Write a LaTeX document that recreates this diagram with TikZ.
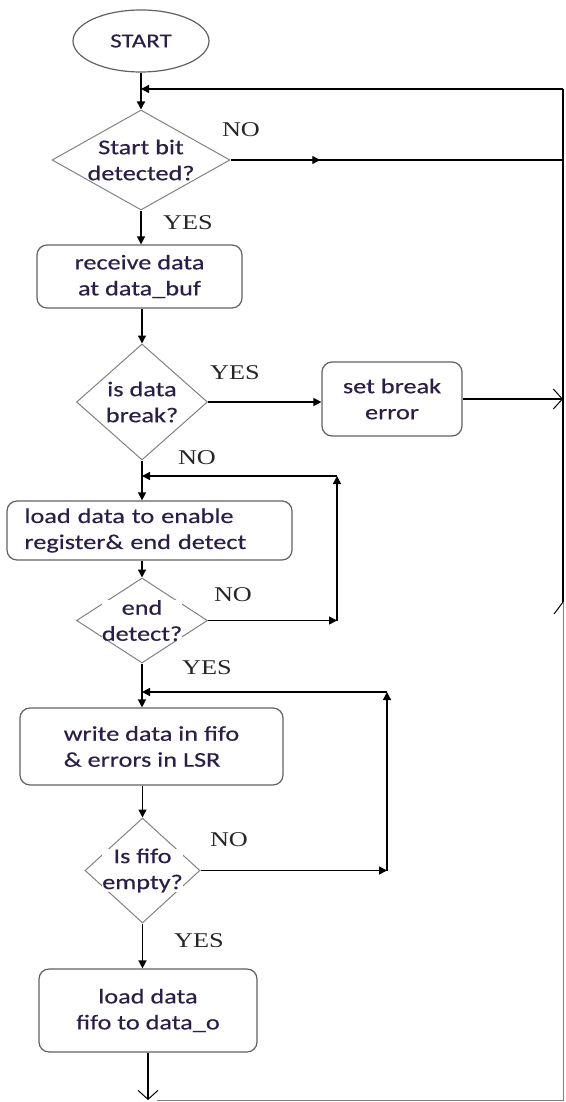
\documentclass[tikz,border=0pt]{standalone}
\usepackage{fontspec}
\setmainfont{Carlito}[FakeStretch=1.25, FakeBold=0.4]
\newfontfamily\labelfont{Liberation Serif}[FakeStretch=1.25]
\usepackage{tikz}
\usetikzlibrary{arrows.meta, shapes.geometric, decorations.markings, calc}
\definecolor{boxGray}{rgb}{0.38,0.38,0.38}
\definecolor{textInk}{rgb}{0.17,0.12,0.28}
\tikzset{
	procbox/.style={draw=boxGray, line width=1.2pt, rounded corners=10pt, inner sep=0pt, text=textInk, font=\fontsize{21}{26}\selectfont},
	decision/.style={diamond, draw=boxGray!80, line width=1pt, inner sep=0pt},
	qtext/.style={fill=white, inner sep=0pt, text=textInk, align=center, font=\fontsize{21}{26}\selectfont},
	yesno/.style={inner sep=0pt, text=black!85, font=\labelfont\fontsize{21}{21}\selectfont},
	flow/.style={line width=1.4pt, -{Triangle[length=8pt,width=8pt]}},
	openflow/.style={line width=1.4pt, -{Straight Barb[length=9pt,width=20pt,line width=1pt]}},
}

\begin{document}
\begin{tikzpicture}[x=1pt, y=-1pt]
	\useasboundingbox (0,0) rectangle (565,1102);
	\coordinate (rtop) at (563,89);
	\coordinate (rmid) at (563,602);
	\coordinate (rbot) at (563,1100);
	\coordinate (rbotL) at (157,1100);
	\coordinate (loopA) at (337,476);
	\coordinate (loopB) at (387,692);

	% shapes
	\node[ellipse, draw=boxGray, line width=1.2pt, minimum width=136pt, minimum height=62pt, text=textInk, font=\fontsize{20}{20}\selectfont] (start) at (141,41) {START};
	\node[decision, minimum width=178pt, minimum height=100pt, label={[qtext]center:Start bit\\detected?}] (qstart) at (141,160) {};
	\node[procbox, minimum width=205pt, minimum height=63pt, align=center] (recv) at (139.5,276.5) {receive data\\at data\_buf};
	\node[decision, minimum width=131pt, minimum height=116pt, label={[qtext]center:is data\\break?}] (qbrk) at (142,402) {};
	\node[procbox, minimum width=140pt, minimum height=74pt, align=center] (brk) at (392,399) {set break\\error};
	\node[procbox, text width=250pt, inner xsep=17.5pt, minimum height=59pt, align=left] (load) at (149.5,530.5) {load data to enable\\register\& end detect};
	\node[decision, minimum width=131pt, minimum height=85pt, label={[qtext]center:end\\detect?}] (qend) at (142,620.5) {};
	\node[procbox, minimum width=263pt, minimum height=77pt, align=left] (fifo) at (151.5,746.5) {write data in fifo\\\& errors in LSR};
	\node[decision, minimum width=115pt, minimum height=105pt, label={[qtext]center:Is fifo\\empty?}] (qfifo) at (142.5,870.5) {};
	\node[procbox, minimum width=218pt, minimum height=83pt, align=center] (out) at (148,1010.5) {load data\\fifo to data\_o};

	% branch labels
	\node[yesno] (no1) at (241,130) {NO};
	\node[yesno] (yes1) at (188,223) {YES};
	\node[yesno] (yes2) at (235,373) {YES};
	\node[yesno] (no2) at (197,458) {NO};
	\node[yesno] (no3) at (233,595) {NO};
	\node[yesno] (yes3) at (207,668) {YES};
	\node[yesno] (no4) at (229,840) {NO};
	\node[yesno] (yes4) at (199,941) {YES};

	% return line on the right
	\draw[line width=1.4pt] (rmid) -- (rtop);
	\draw[line width=1pt] (rmid) -- ++(-9,12);
	\draw[gray, line width=1pt] (rmid) -- (rbot) -- (rbotL);
	\draw[flow] (rtop) -- (start.south |- rtop);

	% main flow
	\draw[flow] (start.south) -- (qstart.north);
	\draw[line width=1.4pt, postaction={decorate}, decoration={markings, mark=at position 0.27 with {\arrow{Triangle[length=8pt,width=8pt]}}}] (qstart.east) -- (qstart.east -| rtop);
	\draw[flow] (qstart.south) -- (qstart.south |- recv.north);
	\draw[flow] (recv.south -| qbrk.north) -- (qbrk.north);
	\draw[flow] (qbrk.east) -- (qbrk.east -| brk.west);
	\draw[openflow] (brk.east) -- (brk.east -| rtop);
	\draw[flow] (qbrk.south) -- (qbrk.south |- load.north);
	\draw[flow] (load.south -| qend.north) -- (qend.north);
	\draw[flow] (qend.east) -- (qend.east -| loopA);
	\draw[flow] (qend.east -| loopA) -- (loopA);
	\draw[flow] (loopA) -- (loopA -| qbrk.south);
	\draw[flow] (qend.south) -- (qend.south |- fifo.north);
	\draw[flow] (fifo.south -| qfifo.north) -- (qfifo.north);
	\draw[flow] (qfifo.east) -- (qfifo.east -| loopB);
	\draw[flow] (qfifo.east -| loopB) -- (loopB);
	\draw[flow] (loopB) -- (loopB -| qend.south);
	\draw[flow] (qfifo.south) -- (qfifo.south |- out.north);
	\draw[openflow] (out.south) -- (out.south |- rbot);
\end{tikzpicture}
\end{document}
